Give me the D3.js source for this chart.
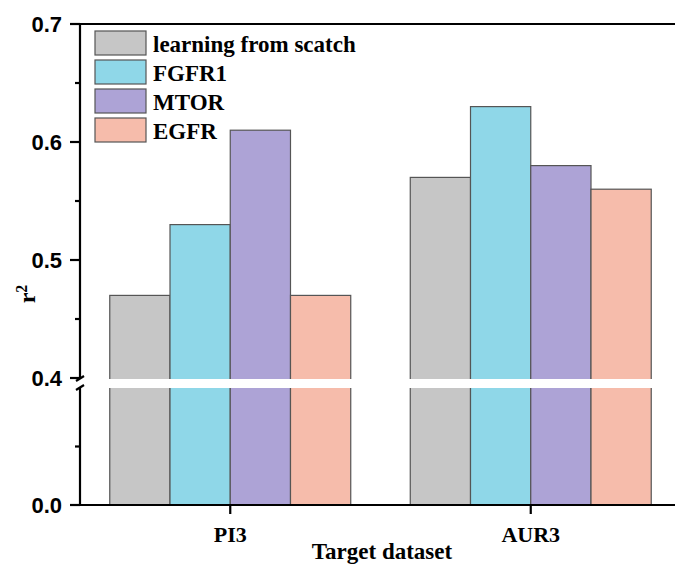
<!DOCTYPE html>
<html>
<head>
<meta charset="utf-8">
<script src="https://d3js.org/d3.v7.min.js"></script>
<style>
  body { margin: 0; background: #fff; }
  svg { display: block; }
</style>
</head>
<body>
<svg width="675" height="565"></svg>
<script>
// data
var datasets = ['PI3', 'AUR3'];
var series = ['learning from scatch', 'FGFR1', 'MTOR', 'EGFR'];
var scratch = [0.47, 0.57];
var fgfr1 = [0.53, 0.63];
var mtor = [0.61, 0.58];
var egfr = [0.47, 0.56];
var upperTicks = [0.4, 0.5, 0.6, 0.7];
var upperMinor = [0.45, 0.55, 0.65];
var lowerTicks = [0.0];
var lowerMinor = [0.2];

var colors = ['#c6c6c6', '#8fd7e8', '#ada3d6', '#f6bcab'];
var values = [scratch, fgfr1, mtor, egfr];

var svg = d3.select('svg');
var plotL = 80, plotR = 681, plotT = 24, plotB = 505;
var breakTop = 378, breakBot = 388;

// two-piece y scale for the broken axis
var yU = d3.scaleLinear().domain([0.4, 0.7]).range([breakTop, plotT]);
var yL = d3.scaleLinear().domain([0, 0.4]).range([plotB, breakBot]);
function y(v) { return v >= 0.4 ? yU(v) : yL(v); }

var x0 = d3.scaleBand().domain(datasets).range([plotL, plotR]);
var x1 = d3.scaleBand().domain(series).range([0, x0.bandwidth()]).paddingOuter(0.494);

// bars
var g = svg.append('g');
datasets.forEach(function(ds, i) {
  series.forEach(function(s, j) {
    var v = values[j][i];
    g.append('rect')
      .attr('x', x0(ds) + x1(s))
      .attr('y', y(v))
      .attr('width', x1.bandwidth())
      .attr('height', plotB - y(v))
      .attr('fill', colors[j])
      .attr('stroke', '#555')
      .attr('stroke-width', 1.2);
  });
  // white gap over the break
  g.append('rect')
    .attr('x', x0(ds) + x1(series[0]) - 2)
    .attr('y', breakTop + 1)
    .attr('width', x1.bandwidth() * 4 + 4)
    .attr('height', breakBot - breakTop - 1)
    .attr('fill', '#fff');
});

// axis lines
var ax = svg.append('g').attr('stroke', '#000').attr('stroke-width', 2.2).attr('fill', 'none');
ax.append('line').attr('x1', plotL).attr('x2', 675).attr('y1', plotB).attr('y2', plotB);
ax.append('line').attr('x1', plotL).attr('x2', 675).attr('y1', plotT).attr('y2', plotT);
ax.append('line').attr('x1', plotL).attr('x2', plotL).attr('y1', plotT - 1).attr('y2', breakTop + 1);
ax.append('line').attr('x1', plotL).attr('x2', plotL).attr('y1', breakBot - 1).attr('y2', plotB + 1);
// break slashes
ax.append('line').attr('x1', plotL - 4).attr('x2', plotL + 4).attr('y1', breakTop + 3).attr('y2', breakTop - 2);
ax.append('line').attr('x1', plotL - 4).attr('x2', plotL + 4).attr('y1', breakBot + 2).attr('y2', breakBot - 3);

// y ticks
function majorTick(yy, label) {
  ax.append('line').attr('x1', plotL - 10).attr('x2', plotL).attr('y1', yy).attr('y2', yy);
  svg.append('text').attr('x', 62).attr('y', yy).attr('dy', '0.36em')
    .attr('text-anchor', 'end')
    .style('font-family', 'Liberation Sans, Arial, sans-serif')
    .style('font-weight', 'bold').style('font-size', '22px')
    .text(label);
}
function minorTick(yy) {
  ax.append('line').attr('x1', plotL - 5).attr('x2', plotL).attr('y1', yy).attr('y2', yy);
}
upperTicks.forEach(function(t) { majorTick(yU(t), d3.format('.1f')(t)); });
upperMinor.forEach(function(t) { minorTick(yU(t)); });
lowerTicks.forEach(function(t) { majorTick(yL(t), d3.format('.1f')(t)); });
lowerMinor.forEach(function(t) { minorTick(yL(t)); });

// x ticks
var serif = 'Liberation Serif, Times New Roman, serif';
datasets.forEach(function(ds) {
  var cx = x0(ds) + x0.bandwidth() / 2;
  ax.append('line').attr('x1', cx).attr('x2', cx).attr('y1', plotB).attr('y2', plotB + 9);
  svg.append('text').attr('x', cx).attr('y', 542)
    .attr('text-anchor', 'middle')
    .style('font-family', serif).style('font-weight', 'bold').style('font-size', '22px')
    .text(ds);
});

// axis titles
svg.append('text').attr('x', 382).attr('y', 559)
  .attr('text-anchor', 'middle')
  .style('font-family', serif).style('font-weight', 'bold').style('font-size', '23px')
  .text('Target dataset');

var yt = svg.append('text')
  .attr('transform', 'translate(35,294) rotate(-90)')
  .attr('text-anchor', 'middle')
  .style('font-family', serif).style('font-weight', 'bold').style('font-size', '24px');
yt.append('tspan').text('r');
yt.append('tspan').attr('dy', '-0.5em').style('font-size', '16px').text('2');

// legend
var lg = svg.append('g');
series.forEach(function(s, j) {
  var ly = 31 + j * 29;
  lg.append('rect').attr('x', 95).attr('y', ly).attr('width', 51).attr('height', 24)
    .attr('fill', colors[j]).attr('stroke', '#555').attr('stroke-width', 1.2);
  lg.append('text').attr('x', 153).attr('y', ly + 21)
    .style('font-family', serif).style('font-weight', 'bold').style('font-size', '23px')
    .text(s);
});
</script>
</body>
</html>
